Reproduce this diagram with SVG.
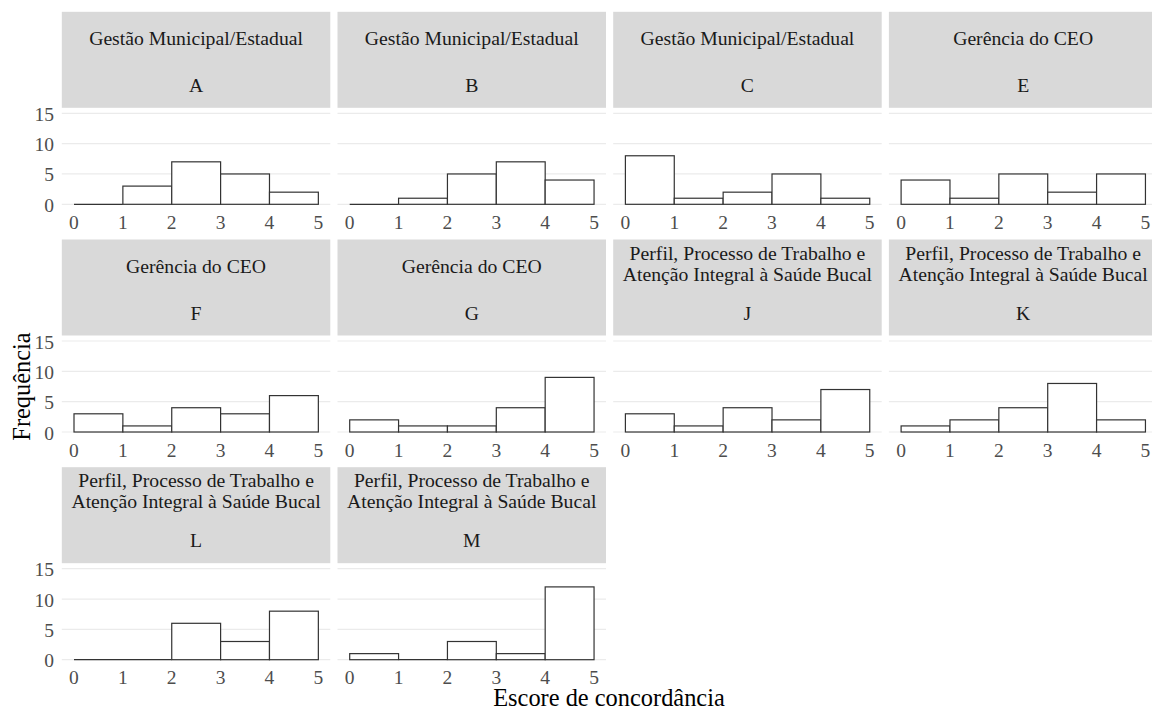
<svg xmlns="http://www.w3.org/2000/svg" width="1152" height="709" viewBox="0 0 1152 709" font-family="'Liberation Serif','Times New Roman',serif">
<style>
text{font-family:"Liberation Serif","Times New Roman",serif}
.strip{fill:#D9D9D9}
.st{font-size:19.7px;fill:#1A1A1A;text-anchor:middle}
.grid{stroke:#EBEBEB;stroke-width:1.2}
.bar{fill:#FFFFFF;stroke:#333333;stroke-width:1.2}
.xt{font-size:19.5px;fill:#4D4D4D;text-anchor:middle}
.yt{font-size:19.5px;fill:#4D4D4D;text-anchor:end}
.title{font-size:24.4px;fill:#000000;text-anchor:middle}
</style>
<defs>
<g id="grid">
<line class="grid" x1="0" y1="0" x2="268.5" y2="0"/>
<line class="grid" x1="0" y1="-30.33" x2="268.5" y2="-30.33"/>
<line class="grid" x1="0" y1="-60.67" x2="268.5" y2="-60.67"/>
<line class="grid" x1="0" y1="-91" x2="268.5" y2="-91"/>
</g>
<g id="xticks">
<text class="xt" x="12.2" y="24.5">0</text>
<text class="xt" x="61.07" y="24.5">1</text>
<text class="xt" x="109.94" y="24.5">2</text>
<text class="xt" x="158.81" y="24.5">3</text>
<text class="xt" x="207.68" y="24.5">4</text>
<text class="xt" x="256.55" y="24.5">5</text>
</g>
<g id="yticks">
<text class="yt" x="-7.8" y="7.5">0</text>
<text class="yt" x="-7.8" y="-22.83">5</text>
<text class="yt" x="-7.8" y="-53.17">10</text>
<text class="yt" x="-7.8" y="-83.5">15</text>
</g>
<rect id="stripbox" class="strip" x="0" y="-192.5" width="268.5" height="96"/>
</defs>

<!-- Row 1 -->
<g id="panel-A" transform="translate(61.8,204.3)">
<use href="#stripbox"/>
<text class="st" x="134.25" y="-159.5">Gestão Municipal/Estadual</text>
<text class="st" x="134.25" y="-112.5">A</text>
<use href="#grid"/>
<line class="bar" x1="12.2" y1="0" x2="61.07" y2="0"/>
<rect class="bar" x="61.07" y="-18.2" width="48.87" height="18.2"/>
<rect class="bar" x="109.94" y="-42.47" width="48.87" height="42.47"/>
<rect class="bar" x="158.81" y="-30.33" width="48.87" height="30.33"/>
<rect class="bar" x="207.68" y="-12.13" width="48.87" height="12.13"/>
<use href="#xticks"/>
<use href="#yticks"/>
</g>
<g id="panel-B" transform="translate(337.5,204.3)">
<use href="#stripbox"/>
<text class="st" x="134.25" y="-159.5">Gestão Municipal/Estadual</text>
<text class="st" x="134.25" y="-112.5">B</text>
<use href="#grid"/>
<line class="bar" x1="12.2" y1="0" x2="61.07" y2="0"/>
<rect class="bar" x="61.07" y="-6.07" width="48.87" height="6.07"/>
<rect class="bar" x="109.94" y="-30.33" width="48.87" height="30.33"/>
<rect class="bar" x="158.81" y="-42.47" width="48.87" height="42.47"/>
<rect class="bar" x="207.68" y="-24.27" width="48.87" height="24.27"/>
<use href="#xticks"/>
</g>
<g id="panel-C" transform="translate(613.2,204.3)">
<use href="#stripbox"/>
<text class="st" x="134.25" y="-159.5">Gestão Municipal/Estadual</text>
<text class="st" x="134.25" y="-112.5">C</text>
<use href="#grid"/>
<rect class="bar" x="12.2" y="-48.53" width="48.87" height="48.53"/>
<rect class="bar" x="61.07" y="-6.07" width="48.87" height="6.07"/>
<rect class="bar" x="109.94" y="-12.13" width="48.87" height="12.13"/>
<rect class="bar" x="158.81" y="-30.33" width="48.87" height="30.33"/>
<rect class="bar" x="207.68" y="-6.07" width="48.87" height="6.07"/>
<use href="#xticks"/>
</g>
<g id="panel-E" transform="translate(888.9,204.3)">
<use href="#stripbox"/>
<text class="st" x="134.25" y="-159.5">Gerência do CEO</text>
<text class="st" x="134.25" y="-112.5">E</text>
<use href="#grid"/>
<rect class="bar" x="12.2" y="-24.27" width="48.87" height="24.27"/>
<rect class="bar" x="61.07" y="-6.07" width="48.87" height="6.07"/>
<rect class="bar" x="109.94" y="-30.33" width="48.87" height="30.33"/>
<rect class="bar" x="158.81" y="-12.13" width="48.87" height="12.13"/>
<rect class="bar" x="207.68" y="-30.33" width="48.87" height="30.33"/>
<use href="#xticks"/>
</g>

<!-- Row 2 -->
<g id="panel-F" transform="translate(61.8,432)">
<use href="#stripbox"/>
<text class="st" x="134.25" y="-159.5">Gerência do CEO</text>
<text class="st" x="134.25" y="-112.5">F</text>
<use href="#grid"/>
<rect class="bar" x="12.2" y="-18.2" width="48.87" height="18.2"/>
<rect class="bar" x="61.07" y="-6.07" width="48.87" height="6.07"/>
<rect class="bar" x="109.94" y="-24.27" width="48.87" height="24.27"/>
<rect class="bar" x="158.81" y="-18.2" width="48.87" height="18.2"/>
<rect class="bar" x="207.68" y="-36.4" width="48.87" height="36.4"/>
<use href="#xticks"/>
<use href="#yticks"/>
</g>
<g id="panel-G" transform="translate(337.5,432)">
<use href="#stripbox"/>
<text class="st" x="134.25" y="-159.5">Gerência do CEO</text>
<text class="st" x="134.25" y="-112.5">G</text>
<use href="#grid"/>
<rect class="bar" x="12.2" y="-12.13" width="48.87" height="12.13"/>
<rect class="bar" x="61.07" y="-6.07" width="48.87" height="6.07"/>
<rect class="bar" x="109.94" y="-6.07" width="48.87" height="6.07"/>
<rect class="bar" x="158.81" y="-24.27" width="48.87" height="24.27"/>
<rect class="bar" x="207.68" y="-54.6" width="48.87" height="54.6"/>
<use href="#xticks"/>
</g>
<g id="panel-J" transform="translate(613.2,432)">
<use href="#stripbox"/>
<text class="st" x="134.25" y="-172.5">Perfil, Processo de Trabalho e</text>
<text class="st" x="134.25" y="-151.5">Atenção Integral à Saúde Bucal</text>
<text class="st" x="134.25" y="-112.5">J</text>
<use href="#grid"/>
<rect class="bar" x="12.2" y="-18.2" width="48.87" height="18.2"/>
<rect class="bar" x="61.07" y="-6.07" width="48.87" height="6.07"/>
<rect class="bar" x="109.94" y="-24.27" width="48.87" height="24.27"/>
<rect class="bar" x="158.81" y="-12.13" width="48.87" height="12.13"/>
<rect class="bar" x="207.68" y="-42.47" width="48.87" height="42.47"/>
<use href="#xticks"/>
</g>
<g id="panel-K" transform="translate(888.9,432)">
<use href="#stripbox"/>
<text class="st" x="134.25" y="-172.5">Perfil, Processo de Trabalho e</text>
<text class="st" x="134.25" y="-151.5">Atenção Integral à Saúde Bucal</text>
<text class="st" x="134.25" y="-112.5">K</text>
<use href="#grid"/>
<rect class="bar" x="12.2" y="-6.07" width="48.87" height="6.07"/>
<rect class="bar" x="61.07" y="-12.13" width="48.87" height="12.13"/>
<rect class="bar" x="109.94" y="-24.27" width="48.87" height="24.27"/>
<rect class="bar" x="158.81" y="-48.53" width="48.87" height="48.53"/>
<rect class="bar" x="207.68" y="-12.13" width="48.87" height="12.13"/>
<use href="#xticks"/>
</g>

<!-- Row 3 -->
<g id="panel-L" transform="translate(61.8,659.7)">
<use href="#stripbox"/>
<text class="st" x="134.25" y="-172.5">Perfil, Processo de Trabalho e</text>
<text class="st" x="134.25" y="-151.5">Atenção Integral à Saúde Bucal</text>
<text class="st" x="134.25" y="-112.5">L</text>
<use href="#grid"/>
<line class="bar" x1="12.2" y1="0" x2="109.94" y2="0"/>
<rect class="bar" x="109.94" y="-36.4" width="48.87" height="36.4"/>
<rect class="bar" x="158.81" y="-18.2" width="48.87" height="18.2"/>
<rect class="bar" x="207.68" y="-48.53" width="48.87" height="48.53"/>
<use href="#xticks"/>
<use href="#yticks"/>
</g>
<g id="panel-M" transform="translate(337.5,659.7)">
<use href="#stripbox"/>
<text class="st" x="134.25" y="-172.5">Perfil, Processo de Trabalho e</text>
<text class="st" x="134.25" y="-151.5">Atenção Integral à Saúde Bucal</text>
<text class="st" x="134.25" y="-112.5">M</text>
<use href="#grid"/>
<rect class="bar" x="12.2" y="-6.07" width="48.87" height="6.07"/>
<line class="bar" x1="61.07" y1="0" x2="109.94" y2="0"/>
<rect class="bar" x="109.94" y="-18.2" width="48.87" height="18.2"/>
<rect class="bar" x="158.81" y="-6.07" width="48.87" height="6.07"/>
<rect class="bar" x="207.68" y="-72.8" width="48.87" height="72.8"/>
<use href="#xticks"/>
</g>

<!-- Axis titles -->
<text class="title" x="609" y="705.5">Escore de concordância</text>
<text class="title" transform="translate(29.5,386.5) rotate(-90)">Frequência</text>
</svg>
